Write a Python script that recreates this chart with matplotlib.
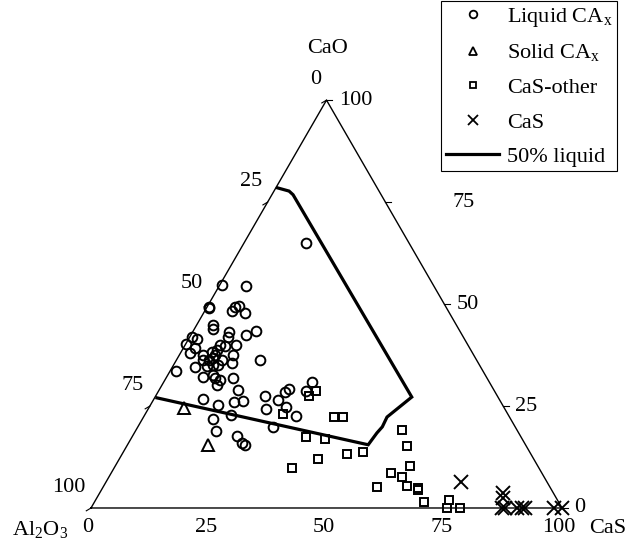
import numpy as np
import matplotlib
matplotlib.use("Agg")
from matplotlib import pyplot as plt
from matplotlib.lines import Line2D

plt.rcParams['font.family'] = ['Liberation Serif', 'DejaVu Serif']
plt.rcParams['mathtext.fontset'] = 'custom'
plt.rcParams['mathtext.rm'] = 'Liberation Serif'

# compositions in wt%: (CaO, CaS), Al2O3 is the rest
liq_cao = [54.7, 54.4, 49.4, 49.1, 48.4, 49.3, 49.5, 47.7, 44.9, 44.0, 43.2, 42.0, 42.4, 43.4,
           42.0, 41.4, 40.2, 37.9, 39.2, 40.0, 39.6, 38.7, 40.0, 37.5, 38.3, 37.5, 37.5, 36.3,
           36.3, 36.7, 36.3, 35.5, 36.4, 34.5, 34.7, 35.1, 35.1, 33.7, 32.1, 32.6, 31.8, 31.4,
           30.2, 31.8, 28.9, 26.7, 25.3, 26.1, 26.3, 27.5, 26.5, 22.8, 24.2, 19.9, 21.8, 18.9,
           17.7, 16.0, 15.5, 64.9, 28.4, 29.2, 24.8, 22.6, 28.7, 30.8]
liq_cas = [0.4, 5.8, 0.3, 0.6, 5.7, 6.0, 6.7, 8.8, 3.4, 3.8, 7.7, 8.0, 11.8, 13.3,
           0.4, 1.9, 0.1, 2.1, 2.5, 7.3, 8.7, 7.3, 10.8, 5.1, 6.5, 7.6, 11.5, 5.7,
           6.8, 7.6, 9.6, 12.1, 17.7, 4.8, 7.2, 8.4, 9.5, 1.2, 7.8, 9.7, 10.4, 11.7,
           11.6, 14.2, 16.7, 10.5, 14.4, 17.3, 19.2, 23.2, 26.5, 18.3, 25.1, 28.6, 14.9, 17.0,
           22.1, 24.0, 25.0, 13.3, 26.9, 27.5, 29.0, 32.2, 31.3, 31.6]

sol_cao = [24.6, 15.5]
sol_cas = [7.5, 17.1]

oth_cao = [28.8, 27.5, 23.0, 22.2, 22.2, 17.5, 16.9, 12.1, 9.7, 13.2, 13.8, 19.1,
           15.2, 10.3, 8.5, 7.7, 5.4, 5.1, 5.0, 4.3, 1.4, 2.0, 0.0, 0.0]
oth_cas = [33.3, 32.6, 29.2, 40.5, 42.3, 36.8, 41.2, 42.2, 37.9, 47.8, 50.9, 56.5,
           59.5, 62.6, 59.4, 62.2, 64.4, 58.2, 66.9, 67.2, 70.0, 75.1, 75.5, 78.3]

cas_cao = [6.3, 3.6, 2.4, 0, 0, 0, 0, 0, 0, 0]
cas_cas = [75.4, 85.7, 86.3, 87.2, 87.9, 90.4, 91.4, 92.1, 98.2, 100]

# 50% liquid boundary
l50_cao = [27.0, 15.5, 18.4, 19.9, 22.3, 27.2, 76.8, 77.7, 78.5]
l50_cas = [0.5, 51.1, 51.5, 51.9, 51.7, 54.5, 4.5, 3.2, 0.3]

ticks = [0, 25, 50, 75, 100]

h = np.sqrt(3) / 2


def tern(cao, cas):
    cao = np.asarray(cao, float)
    cas = np.asarray(cas, float)
    return cas + cao / 2, cao * h


fig = plt.figure(figsize=(6.33, 5.46), dpi=100)
ax = fig.add_axes([0, 0, 1, 1])
ax.set_xlim(-19.32, 115.07)
ax.set_ylim(-8.07, 107.86)
ax.axis("off")

# triangle
tx, ty = tern([0, 0, 100, 0], [0, 100, 0, 0])
ax.plot(tx, ty, color='k', lw=1.0)

fs = 16
# left axis: Al2O3
for v in ticks:
    x, y = tern(100 - v, 0)
    ax.plot([x, x - 1.0], [y, y - 0.6], color='k', lw=0.8)
    ax.text(x - 1.2, y + 4.3, str(v), ha='right', va='center', fontsize=fs)
# right axis: CaO (the 75 label sits further out in the original)
for v in ticks:
    x, y = tern(v, 100 - v)
    ax.plot([x, x + 1.2], [y, y], color='k', lw=0.8)
    dx = 14.2 if v == 75 else 2.6
    ax.text(x + dx, y, str(v), ha='left', va='center', fontsize=fs)
# bottom axis: CaS
for v in ticks:
    x, y = tern(0, v)
    ax.text(x - 0.6, y - 4.2, str(v), ha='center', va='center', fontsize=fs)

ax.text(50.2, 97.6, 'CaO', ha='center', va='center', fontsize=fs)
ax.text(-10.9, -4.7, r'Al$_2$O$_3$', ha='center', va='center', fontsize=fs)
ax.text(109.8, -4.3, 'CaS', ha='center', va='center', fontsize=fs)

x, y = tern(l50_cao, l50_cas)
ax.plot(x, y, color='k', lw=2.3, solid_joinstyle='miter')

x, y = tern(liq_cao, liq_cas)
ax.plot(x, y, 'o', ms=7, mfc='none', mec='k', mew=1.4, ls='none')
x, y = tern(sol_cao, sol_cas)
ax.plot(x, y, '^', ms=8, mfc='none', mec='k', mew=1.4, ls='none')
x, y = tern(oth_cao, oth_cas)
ax.plot(x, y, 's', ms=6, mfc='none', mec='k', mew=1.4, ls='none')
x, y = tern(cas_cao, cas_cas)
ax.plot(x, y, 'x', ms=9.5, mec='k', mew=1.4, ls='none')

handles = [
    Line2D([], [], marker='o', ls='none', ms=5.5, mfc='none', mec='k', mew=1.3),
    Line2D([], [], marker='^', ls='none', ms=6, mfc='none', mec='k', mew=1.3),
    Line2D([], [], marker='s', ls='none', ms=5, mfc='none', mec='k', mew=1.3),
    Line2D([], [], marker='x', ls='none', ms=6.5, mec='k', mew=1.3),
    Line2D([], [], color='k', lw=2.3),
]
labels = [r'Liquid CA$_\mathrm{x}$', r'Solid CA$_\mathrm{x}$', 'CaS-other', 'CaS', '50% liquid']
leg = ax.legend(handles, labels, loc='upper right', bbox_to_anchor=(617 / 633, 0.998),
                bbox_transform=fig.transFigure, fontsize=fs, frameon=True, fancybox=False,
                edgecolor='k', framealpha=1, borderpad=0.2, borderaxespad=0,
                handlelength=2.4, handletextpad=0.35, labelspacing=0.62)
leg.get_frame().set_linewidth(0.8)

plt.savefig("out.png", dpi=100)
